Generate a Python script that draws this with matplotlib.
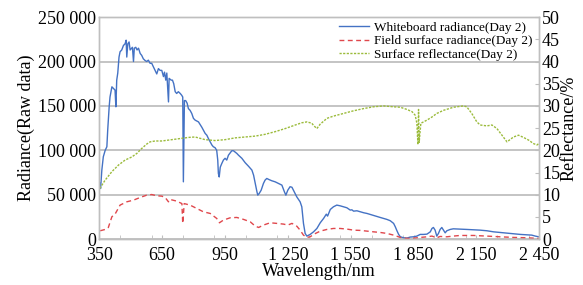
import matplotlib
matplotlib.use("Agg")
import matplotlib.pyplot as plt
from matplotlib.ticker import FuncFormatter, MultipleLocator

plt.rcParams["font.family"] = ["Liberation Serif", "DejaVu Serif"]

# Whiteboard radiance (Day 2), raw counts
wb_wl = [353, 357, 363, 370, 379, 387, 391, 398, 402, 411, 418, 426, 430, 434, 439, 445,
         450, 458, 466, 474, 479, 482, 487, 493, 498, 509, 514, 518, 525, 531, 538, 546,
         553, 561, 570, 577, 585, 593, 601, 609, 617, 625, 633, 641, 649, 657, 662, 668,
         673, 681, 684, 694, 700, 706, 713, 720, 728, 737, 744, 749, 752, 757, 763, 770,
         776, 784, 792, 800, 808, 824, 840, 856, 864, 872, 880, 888, 895, 903, 911, 916,
         919, 923, 928, 935, 943, 951, 959, 967, 975, 983, 991, 999, 1007, 1015, 1031,
         1047, 1063, 1079, 1087, 1095, 1103, 1107, 1114, 1123, 1134, 1142, 1150, 1161,
         1174, 1190, 1205, 1222, 1234, 1241, 1250, 1261, 1270, 1281, 1293, 1309, 1317,
         1325, 1333, 1341, 1357, 1373, 1389, 1405, 1421, 1434, 1440, 1453, 1468, 1484,
         1500, 1516, 1532, 1548, 1556, 1564, 1580, 1596, 1612, 1628, 1643, 1659, 1675,
         1691, 1707, 1723, 1739, 1755, 1763, 1771, 1779, 1787, 1803, 1819, 1834, 1850,
         1866, 1882, 1898, 1914, 1930, 1938, 1945, 1953, 1961, 1969, 1977, 1985, 1993,
         2001, 2009, 2025, 2040, 2072, 2104, 2136, 2168, 2200, 2232, 2264, 2295, 2327,
         2359, 2391, 2414, 2431, 2447]
wb_val = [63000, 57000, 77700, 92700, 100000, 104000, 122700, 149000, 160000, 171500,
          169700, 167800, 149000, 179000, 187000, 205000, 211000, 213000, 218000, 220000,
          224000, 205000, 220000, 222000, 213000, 216000, 200000, 215000, 216000, 213000,
          215000, 209000, 207000, 203000, 201000, 200000, 201500, 198000, 198000, 194000,
          190000, 186000, 192000, 190000, 190000, 183000, 188000, 179000, 187000, 154500,
          181000, 179000, 179000, 175000, 166000, 164000, 166000, 164000, 162000, 160000,
          64500, 156000, 156000, 153000, 147000, 145000, 141500, 136000, 134000, 132000,
          126000, 119000, 117000, 113000, 109500, 106000, 104000, 103000, 100000, 89000,
          74000, 70000, 81000, 85000, 89000, 91000, 89000, 94500, 97000, 99500, 99500,
          98000, 96500, 94500, 91000, 86000, 82000, 77700, 72000, 62700, 53300, 49500,
          51500, 55000, 62700, 66500, 68300, 67000, 65700, 64500, 62700, 60800, 53300,
          49500, 55000, 59000, 58400, 53300, 47600, 42000, 36400, 17700, 6400, 3400, 5300,
          8200, 12000, 18400, 23300, 28100, 25900, 33400, 36400, 38300, 37500, 36400,
          35300, 32700, 33000, 31500, 31900, 30800, 29700, 28900, 27800, 26700, 25500,
          24400, 23300, 22200, 20700, 17700, 13900, 9400, 5300, 2600, 1500, 1200, 2300,
          2600, 3400, 5300, 5300, 5600, 8200, 12000, 13100, 10100, 3400, 6400, 10900,
          13100, 10100, 7100, 9400, 10900, 11600, 11300, 10900, 10500, 10100, 9400, 8200,
          7500, 6800, 6000, 5300, 4900, 4500, 3400, 2600]

# Field surface radiance (Day 2), raw counts
fs_wl = [355, 379, 394, 411, 426, 450, 482, 514, 546, 577, 601, 625, 649, 665, 681, 688,
         720, 745, 749, 756, 784, 816, 847, 880, 911, 924, 943, 975, 1007, 1039, 1071,
         1095, 1111, 1134, 1166, 1198, 1230, 1250, 1270, 1293, 1309, 1325, 1341, 1357,
         1373, 1405, 1437, 1468, 1500, 1532, 1564, 1596, 1628, 1659, 1691, 1723, 1755,
         1787, 1819, 1850, 1882, 1914, 1938, 1961, 1977, 2009, 2040, 2072, 2136, 2200,
         2264, 2327, 2391, 2447]
fs_val = [9400, 10900, 13100, 25200, 28100, 38300, 42000, 43900, 46900, 49500, 50200,
          48800, 48400, 46900, 42000, 44700, 42800, 40000, 17700, 40000, 38300, 34500,
          30800, 28900, 23300, 18400, 21400, 24000, 24400, 22200, 19500, 14600, 13100,
          15800, 18400, 17700, 16900, 15800, 17700, 14600, 10100, 4500, 1900, 2600, 5300,
          9000, 10900, 12000, 12000, 11300, 10100, 9800, 9000, 8200, 7500, 6400, 4500,
          1900, 800, 1100, 1900, 2600, 3400, 1500, 3000, 2600, 3400, 4100, 4100, 3400,
          2600, 1900, 1500, 800]

# Surface reflectance (Day 2), %
rf_wl = [353, 379, 411, 443, 474, 506, 530, 553, 577, 593, 617, 649, 681, 713, 745, 776,
         808, 856, 903, 951, 999, 1047, 1095, 1142, 1190, 1238, 1286, 1317, 1341, 1365,
         1373, 1389, 1405, 1437, 1468, 1516, 1564, 1612, 1659, 1707, 1755, 1787, 1819,
         1843, 1858, 1866, 1871, 1874, 1877, 1885, 1898, 1914, 1938, 1961, 1993, 2041,
         2088, 2104, 2128, 2152, 2168, 2200, 2224, 2248, 2272, 2296, 2327, 2351, 2375,
         2399, 2423, 2439, 2447]
rf_val = [11.4, 13.3, 15.2, 16.7, 17.8, 18.5, 19.3, 20.4, 21.4, 21.9, 22.1, 22.1, 22.3,
          22.5, 22.7, 22.9, 23.0, 22.4, 22.2, 22.4, 22.8, 23.0, 23.2, 23.6, 24.2, 24.9,
          25.7, 26.2, 26.4, 26.1, 25.6, 24.9, 25.9, 27.2, 27.7, 28.3, 28.9, 29.4, 29.8,
          30.0, 29.8, 29.7, 29.2, 28.7, 27.9, 26.1, 21.3, 29.2, 21.8, 26.1, 26.4, 26.8,
          27.5, 28.3, 29.0, 29.7, 30.0, 29.8, 28.3, 26.4, 25.7, 25.5, 25.7, 24.9, 23.4,
          21.9, 23.0, 23.4, 22.9, 22.3, 21.5, 21.2, 21.5]

x_ticks = [350, 650, 950, 1250, 1550, 1850, 2150, 2450]

GRID = "#BFBFBF"


def space_thousands(v, pos):
    return f"{v:,.0f}".replace(",", " ")


fig = plt.figure(figsize=(5.83, 2.85), dpi=100)
ax = fig.add_axes([0.170, 0.161, 0.755, 0.779])
ax2 = ax.twinx()

ax.plot(wb_wl, wb_val, color="#4472C4", lw=1.0, label="Whiteboard radiance(Day 2)")
ax.plot(fs_wl, fs_val, color="#E0474C", lw=1.0, ls=(0, (3.5, 2.5)),
        label="Field surface radiance(Day 2)")
ax2.plot(rf_wl, rf_val, color="#9BBB3B", lw=1.0, ls=(0, (1.6, 1.0)),
         label="Surface reflectance(Day 2)")

ax.set_xlim(350, 2450)
ax.set_ylim(0, 250000)
ax2.set_ylim(0, 50)

ax.set_xticks(x_ticks)
ax.xaxis.set_major_formatter(FuncFormatter(space_thousands))
ax.xaxis.set_minor_locator(MultipleLocator(150))
ax.set_yticks(range(0, 250001, 50000))
ax.yaxis.set_major_formatter(FuncFormatter(space_thousands))
ax2.set_yticks(range(0, 51, 5))

ax.grid(axis="y", color=GRID, lw=1.3)
ax.set_axisbelow(True)

for a in (ax, ax2):
    for s in a.spines.values():
        s.set_color(GRID)
        s.set_linewidth(1.0)

ax.tick_params(axis="x", which="both", direction="in", length=3, color=GRID,
               labelsize=13, pad=6)
ax.tick_params(axis="y", length=0, labelsize=13, pad=2)
ax2.tick_params(axis="y", direction="in", length=3, color=GRID, labelsize=13, pad=2)

ax.set_xlabel("Wavelength/nm", fontsize=13, labelpad=-1)
ax.set_ylabel("Radiance(Raw data)", fontsize=13, labelpad=2)
ax2.set_ylabel("Reflectance/%", fontsize=13, labelpad=0)

h1, l1 = ax.get_legend_handles_labels()
h2, l2 = ax2.get_legend_handles_labels()
ax2.legend(h1 + h2, l1 + l2, loc="upper right", frameon=False, fontsize=9.5,
           handlelength=2.3, handletextpad=0.4, labelspacing=0.1,
           borderaxespad=0.1, bbox_to_anchor=(1.0, 1.01))

fig.savefig("out.png", dpi=100)
